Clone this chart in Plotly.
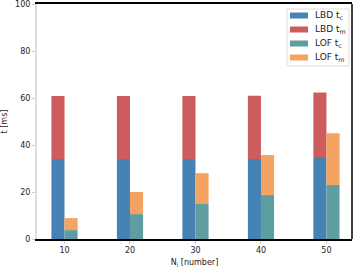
import plotly.graph_objects as go

n_i = [10, 20, 30, 40, 50]
lbd_tc = [34, 34, 34, 34, 34.9]
lbd_tm = [26.9, 26.9, 26.9, 27.0, 27.4]
lof_tc = [3.8, 10.6, 14.9, 18.7, 23.0]
lof_tm = [5.1, 9.4, 13.1, 17.0, 22.0]

labels = ["LBD t<sub>c</sub>", "LBD t<sub>m</sub>", "LOF t<sub>c</sub>", "LOF t<sub>m</sub>"]
colors = ["#4682B4", "#CD5C5C", "#5F9EA0", "#F4A460"]

W, H = 354, 268
ML, MR, MT, MB = 37, 2, 4, 29
PW, PH = W - ML - MR, H - MT - MB


def px(x):
    return (x - ML) / PW


def py(y):
    return (H - MB - y) / PH


fig = go.Figure()
fig.add_bar(x=n_i, y=lbd_tc, base=0, width=2, offset=-2, name=labels[0],
            marker=dict(color=colors[0], line=dict(width=0)))
fig.add_bar(x=n_i, y=lbd_tm, base=lbd_tc, width=2, offset=-2, name=labels[1],
            marker=dict(color=colors[1], line=dict(width=0)))
fig.add_bar(x=n_i, y=lof_tc, base=0, width=2, offset=0, name=labels[2],
            marker=dict(color=colors[2], line=dict(width=0)))
fig.add_bar(x=n_i, y=lof_tm, base=lof_tc, width=2, offset=0, name=labels[3],
            marker=dict(color=colors[3], line=dict(width=0)))

fig.update_layout(
    width=W, height=H, barmode="overlay",
    margin=dict(l=ML, r=MR, t=MT, b=MB, autoexpand=False),
    paper_bgcolor="white", plot_bgcolor="white",
    font=dict(family="DejaVu Sans", size=8, color="#222"),
    showlegend=False,
    xaxis=dict(range=[5.8, 53.9], tickvals=n_i, ticks="outside", ticklen=3,
               tickcolor="#cccccc", showgrid=False, zeroline=False, automargin=False,
               showline=True, linecolor="black", linewidth=1.5, mirror=True,
               title=dict(text="N<sub>i</sub> [number]", standoff=5,
                          font=dict(size=8))),
    yaxis=dict(range=[0, 100], tickvals=[0, 20, 40, 60, 80, 100], ticks="outside",
               ticklen=3, tickcolor="#cccccc", showgrid=False, zeroline=False,
               automargin=False, ticklabeloverflow="allow",
               showline=True, linecolor="#dddddd", linewidth=2,
               title=dict(text="t [ms]", standoff=6, font=dict(size=8))),
)
fig.add_shape(type="line", xref="paper", yref="paper", x0=1, x1=1, y0=0, y1=1,
              line=dict(color="black", width=1.5))

# legend box drawn as shapes + text annotations
fig.add_shape(type="rect", xref="paper", yref="paper",
              x0=px(287), x1=px(349), y0=py(66), y1=py(9),
              line=dict(color="#dddddd", width=1), fillcolor="white")
row_y = [15.5, 29.5, 43.5, 57.5]
for lab, col, yc in zip(labels, colors, row_y):
    fig.add_shape(type="rect", xref="paper", yref="paper",
                  x0=px(290), x1=px(308), y0=py(yc + 3), y1=py(yc - 3),
                  line=dict(width=0), fillcolor=col)
    fig.add_annotation(text=lab, xref="paper", yref="paper", x=px(313), y=py(yc),
                       xanchor="left", yanchor="middle", showarrow=False,
                       font=dict(size=9, color="#222"))

fig.write_html("out.html", config={"displayModeBar": False},
               post_script="document.body.style.margin='0';document.body.style.padding='0';")
